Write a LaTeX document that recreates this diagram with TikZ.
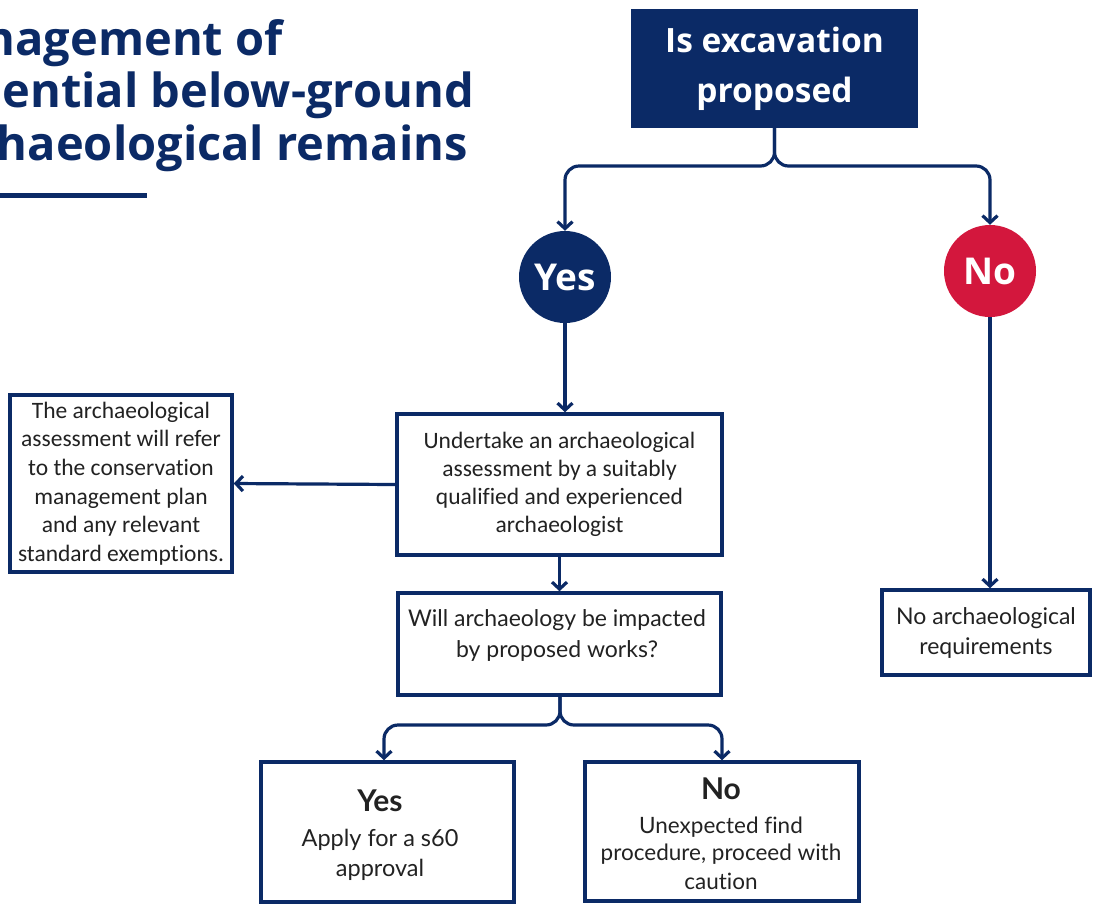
\documentclass[tikz,border=0pt]{standalone}
\usepackage{fontspec}
\setmainfont[Ligatures=NoCommon]{Carlito}
\newfontfamily\lato[Ligatures=NoCommon]{Lato}
\newfontfamily\heavy[Ligatures=NoCommon]{Open Sans}
\usetikzlibrary{arrows.meta}
\definecolor{navy}{HTML}{0B2A66}
\definecolor{crimson}{HTML}{D3173D}
\definecolor{ink}{HTML}{222222}
\tikzset{
  conn/.style={draw=navy, line width=3.2pt, -{Straight Barb[length=7pt,width=15pt,line width=3.2pt]}},
  brace/.style={draw=navy, line width=3.2pt, rounded corners=14pt, -{Straight Barb[length=7pt,width=15pt,line width=3.2pt]}},
  box/.style={draw=navy, line width=3.5pt, fill=white, text=ink, align=center, inner sep=0pt},
  circ/.style={circle, minimum size=92pt, inner sep=0pt, text=white, font=\heavy\bfseries\fontsize{37}{40}\selectfont},
  titletext/.style={text=navy, anchor=base east, inner sep=0pt, font=\heavy\bfseries\fontsize{47}{52}\selectfont},
  line/.style={text=ink, anchor=base, inner sep=0pt},
}
\begin{document}
\begin{tikzpicture}[x=1pt,y=-1pt]
\useasboundingbox (0,0) rectangle (1099,903);
\begin{scope}
\clip (0,0) rectangle (1099,903);
% title
\node[titletext] (t1) at (283,55) {nagement of};
\node[titletext] (t2) at (474,107) {ential below-ground};
\node[titletext] (t3) at (468,160) {haeological remains};
\fill[navy] (0,192.5) rectangle (147,197.5);
% top question
\node[fill=navy, minimum width=287pt, minimum height=119pt, inner sep=0pt, text=white, align=center,
      font=\heavy\bfseries\fontsize{33.5}{50}\selectfont] (q) at (774.5,68.5) {Is excavation\\proposed};
% circles
\node[circ, fill=navy] (yes) at (565,277) {Yes};
\node[circ, fill=crimson] (no) at (990,271) {No};
% boxes
\node[box, minimum width=325pt, minimum height=141pt, font=\fontsize{23.5}{28}\selectfont] (assess) at (559.5,484.5)
  {Undertake an archaeological\\assessment by a suitably\\qualified and experienced\\archaeologist};
\node[box, minimum width=222pt, minimum height=177pt, font=\fontsize{23.5}{28.6}\selectfont] (refer) at (121,483.5)
  {The archaeological\\assessment will refer\\to the conservation\\management plan\\and any relevant\\standard exemptions.};
\node[box, minimum width=323pt, minimum height=102pt] (impact) at (559.5,644) {};
\node[line, font=\lato\fontsize{23}{28}\selectfont] (i1) at (557,626) {Will archaeology be impacted};
\node[line, font=\lato\fontsize{23}{28}\selectfont] (i2) at (557,657) {by proposed works?};
\node[box, minimum width=208pt, minimum height=85pt, font=\lato\fontsize{23}{30}\selectfont] (noreq) at (986,632.5)
  {No archaeological\\requirements};
\node[box, minimum width=253pt, minimum height=140pt] (byes) at (387.5,832) {};
\node[line, font=\lato\bfseries\fontsize{30}{34}\selectfont] (byes0) at (380,811) {Yes};
\node[line, font=\lato\fontsize{23.5}{28}\selectfont] (byes1) at (380,846) {Apply for a s60};
\node[line, font=\lato\fontsize{23.5}{28}\selectfont] (byes2) at (380,876) {approval};
\node[box, minimum width=274pt, minimum height=139pt] (bno) at (722,831.5) {};
\node[line, font=\lato\bfseries\fontsize{30}{34}\selectfont] (bno0) at (721,799) {No};
\node[line, font=\lato\fontsize{22.5}{28}\selectfont] (bno1) at (721,833) {Unexpected find};
\node[line, font=\lato\fontsize{22.5}{28}\selectfont] (bno2) at (721,860) {procedure, proceed with};
\node[line, font=\lato\fontsize{22.5}{28}\selectfont] (bno3) at (721,889) {caution};
% connectors
\coordinate (qj) at (774.5,166);
\draw[brace] (q.south) -- (qj) -| (yes.north);
\draw[brace] (q.south) -- (qj) -| (no.north);
\draw[conn] (yes.south) -- (assess.north -| yes.south);
\draw[conn] (no.south) -- (noreq.north -| no.south);
\draw[conn] (assess.west) -- (refer.east);
\draw[conn] (assess.south -| impact.north) -- (impact.north);
\coordinate (ij) at (560,725);
\draw[brace] (impact.south -| ij) -- (ij) -| (byes.north -| 384,0);
\draw[brace] (impact.south -| ij) -- (ij) -| (bno.north);
\end{scope}
\end{tikzpicture}
\end{document}
